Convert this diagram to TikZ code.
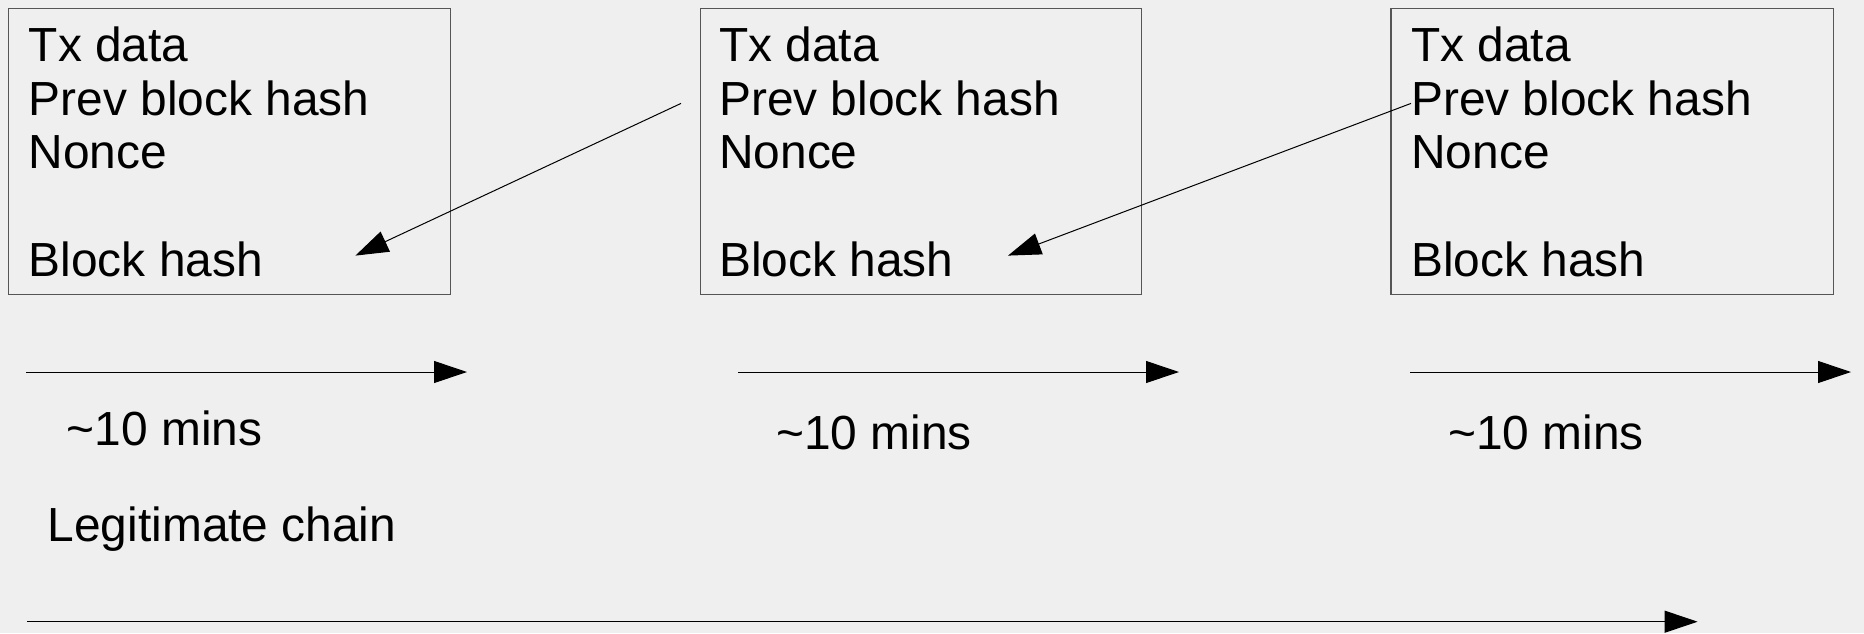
\documentclass[tikz,border=0pt]{standalone}
\usepackage{fontspec}
\setmainfont{Liberation Sans}
\usetikzlibrary{arrows.meta}
\definecolor{bgc}{HTML}{EFEFEF}
\definecolor{boxc}{HTML}{555555}
\tikzset{
  blockbox/.style={draw=boxc, line width=0.9pt, fill=none},
  txt/.style={anchor=base west, inner sep=0pt, font=\fontsize{35.9pt}{40pt}\selectfont},
  conn/.style={draw=black, line width=0.75pt, -{Triangle[length=24.75pt,width=16.5pt]}},
}
\begin{document}
\begin{tikzpicture}[x=0.75pt,y=-0.75pt]
\useasboundingbox[fill=bgc] (0,0) rectangle (1864,633);
% boxes
\draw[blockbox] (8.3,8.3) rectangle (450.5,294.8);
\draw[blockbox] (700.2,8.3) rectangle (1141.2,294.8);
\draw[blockbox] (1390.9,8.3) rectangle (1833.1,294.8);
% box texts
\foreach \i/\x in {1/28.5,2/719,3/1411}{
  \node[txt] (tx\i) at (\x,61.5) {Tx data};
  \node[txt] (prev\i) at (\x,115) {Prev block hash};
  \node[txt] (nonce\i) at (\x,168.5) {Nonce};
  \node[txt] (bh\i) at (\x,276) {Block hash};
}
% diagonal connectors
\coordinate (a1s) at (681,103.4);
\coordinate (a1e) at (355.4,255.6);
\coordinate (a2s) at (1411,103.4);
\coordinate (a2e) at (1008,255.6);
\draw[conn] (a1s) -- (a1e);
\draw[conn] (a2s) -- (a2e);
% time arrows
\coordinate (t1s) at (26,372); \coordinate (t1e) at (467,372);
\coordinate (t2s) at (738,372); \coordinate (t2e) at (1179,372);
\coordinate (t3s) at (1410,372); \coordinate (t3e) at (1851,372);
\coordinate (ls) at (27,621.7); \coordinate (le) at (1697.6,621.7);
\draw[conn] (t1s) -- (t1e);
\draw[conn] (t2s) -- (t2e);
\draw[conn] (t3s) -- (t3e);
\draw[conn] (ls) -- (le);
% labels
\node[txt] (m1) at (66.6,445) {\char`\~10 mins};
\node[txt] (m2) at (776,449.5) {\char`\~10 mins};
\node[txt] (m3) at (1448,449.5) {\char`\~10 mins};
\node[txt] (legit) at (47.5,541.5) {Legitimate chain};
\end{tikzpicture}
\end{document}
